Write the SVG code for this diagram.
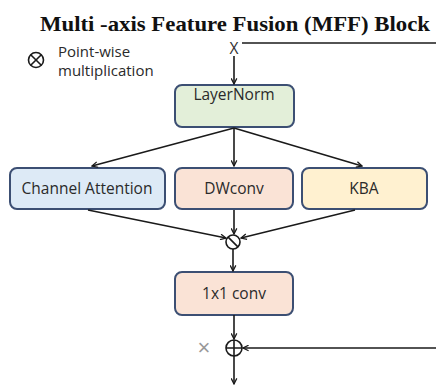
<svg xmlns="http://www.w3.org/2000/svg" width="436" height="385" viewBox="0 0 436 385">
<defs>
<style>
.box{stroke:#3c4f73;stroke-width:2}
.lbl{font-family:"Open Sans","Noto Sans","Liberation Sans",sans-serif;font-size:15.5px;fill:#2a2a2a;text-anchor:middle}
.leg{font-family:"Open Sans","Noto Sans","Liberation Sans",sans-serif;font-size:15px;fill:#2a2a2a}
.edge{stroke:#1a1a1a;stroke-width:1.6;fill:none;marker-end:url(#ah)}
.line{stroke:#1a1a1a;stroke-width:1.6;fill:none}
.sym{stroke:#1a1a1a;stroke-width:1.6;fill:none}
</style>
<marker id="ah" viewBox="0 0 10 10" refX="9" refY="5" markerWidth="7" markerHeight="7" orient="auto" markerUnits="userSpaceOnUse">
<path d="M1,1 L9,5 L1,9" fill="none" stroke="#1a1a1a" stroke-width="1.8"/>
</marker>
</defs>
<rect width="436" height="385" fill="#ffffff"/>
<text x="235" y="31" font-family="Liberation Serif,serif" font-weight="bold" font-size="21" fill="#111" text-anchor="middle" textLength="390" lengthAdjust="spacingAndGlyphs">Multi -axis Feature Fusion (MFF) Block</text>
<g id="legend">
<circle cx="36" cy="60" r="7.5" class="sym"/>
<path d="M30.7,54.7 L41.3,65.3 M41.3,54.7 L30.7,65.3" class="sym"/>
<text x="58" y="57" class="leg">Point-wise</text>
<text x="58" y="76" class="leg">multiplication</text>
</g>
<g id="input">
<text x="234" y="54" class="lbl" style="fill:#333">X</text>
</g>
<g id="layernorm">
<rect x="175" y="85" width="119" height="42" rx="7" class="box" fill="#e3efd9"/>
<text x="234" y="100" class="lbl">LayerNorm</text>
</g>
<g id="channel_attention">
<rect x="10" y="168" width="155" height="41" rx="7" class="box" fill="#ddeaf6"/>
<text x="87" y="194" class="lbl">Channel Attention</text>
</g>
<g id="dwconv">
<rect x="175" y="168" width="118" height="41" rx="7" class="box" fill="#fae3d6"/>
<text x="234" y="194" class="lbl">DWconv</text>
</g>
<g id="kba">
<rect x="302" y="168" width="125" height="41" rx="7" class="box" fill="#fff1d0"/>
<text x="364" y="194" class="lbl">KBA</text>
</g>
<g id="mult">
<circle cx="233" cy="242" r="7" class="sym"/>
<path d="M228.1,237.1 L237.9,246.9" class="sym"/>
</g>
<g id="conv1x1">
<rect x="175" y="272" width="118" height="43" rx="7" class="box" fill="#fae3d6"/>
<text x="234" y="299" class="lbl">1x1 conv</text>
</g>
<g id="add">
<circle cx="234" cy="348" r="8" class="sym"/>
<path d="M226,348 L242,348 M234,340 L234,356" class="sym"/>
<text x="204" y="355" font-family="Liberation Sans,sans-serif" font-size="22" fill="#999" text-anchor="middle">×</text>
</g>
<g id="connectors">
<path d="M242,43 L436,43" class="line"/>
<path d="M234,56 L234,84" class="edge"/>
<path d="M234,128 L92,166" class="edge"/>
<path d="M234,128 L234,166" class="edge"/>
<path d="M234,128 L362,166" class="edge"/>
<path d="M88,210 L226,238" class="edge"/>
<path d="M234,210 L234,234" class="edge"/>
<path d="M355,210 L241,238" class="edge"/>
<path d="M233,249 L233,271" class="edge"/>
<path d="M234,315 L234,339" class="edge"/>
<path d="M436,348 L243,348" class="edge"/>
<path d="M234,356 L234,384" class="edge"/>
</g>
</svg>
